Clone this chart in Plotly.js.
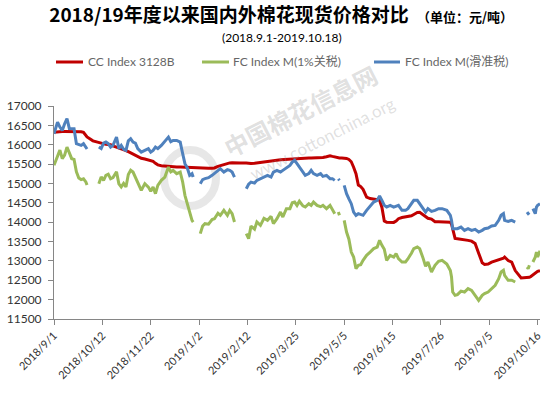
<!DOCTYPE html>
<html>
<head>
<meta charset="utf-8">
<script src="https://cdn.plot.ly/plotly-3.0.1.min.js"></script>
<style>
html,body{margin:0;padding:0;background:#fff;}
#chart{width:556px;height:394px;}
</style>
</head>
<body>
<div id="chart"></div>
<script>
// ---- data ----
var dates = [
'2018-09-01','2018-09-03','2018-09-04','2018-09-06','2018-09-08','2018-09-10','2018-09-12','2018-09-14','2018-09-16','2018-09-18',
'2018-09-20','2018-09-22','2018-09-24','2018-09-26','2018-09-28','2018-09-29','2018-10-04','2018-10-09','2018-10-11','2018-10-13',
'2018-10-15','2018-10-17','2018-10-19','2018-10-21','2018-10-24','2018-10-26','2018-10-28','2018-10-30','2018-11-01','2018-11-03',
'2018-11-05','2018-11-07','2018-11-09','2018-11-11','2018-11-14','2018-11-17','2018-11-20','2018-11-22','2018-11-24','2018-11-26',
'2018-11-28','2018-12-01','2018-12-04','2018-12-07','2018-12-09','2018-12-11','2018-12-14','2018-12-17','2018-12-19','2018-12-21',
'2018-12-23','2018-12-25','2018-12-27','2018-12-28','2018-12-31','2019-01-03','2019-01-05','2019-01-07','2019-01-10','2019-01-13',
'2019-01-15','2019-01-18','2019-01-20','2019-01-23','2019-01-26','2019-01-28','2019-01-30','2019-02-01','2019-02-06','2019-02-11',
'2019-02-13','2019-02-15','2019-02-18','2019-02-20','2019-02-23','2019-02-26','2019-03-01','2019-03-04','2019-03-06','2019-03-09',
'2019-03-12','2019-03-14','2019-03-17','2019-03-20','2019-03-22','2019-03-24','2019-03-26','2019-03-28','2019-03-31','2019-04-02',
'2019-04-05','2019-04-07','2019-04-09','2019-04-12','2019-04-15','2019-04-17','2019-04-20','2019-04-23','2019-04-25','2019-04-27',
'2019-04-28','2019-04-30','2019-05-01','2019-05-03','2019-05-05','2019-05-07','2019-05-09','2019-05-11','2019-05-13','2019-05-15',
'2019-05-17','2019-05-19','2019-05-21','2019-05-24','2019-05-27','2019-05-30','2019-06-02','2019-06-04','2019-06-06','2019-06-08',
'2019-06-10','2019-06-13','2019-06-16','2019-06-18','2019-06-20','2019-06-23','2019-06-26','2019-06-28','2019-07-01','2019-07-03',
'2019-07-06','2019-07-08','2019-07-11','2019-07-13','2019-07-15','2019-07-18','2019-07-21','2019-07-24','2019-07-27','2019-07-31',
'2019-08-03','2019-08-04','2019-08-05','2019-08-07','2019-08-09','2019-08-12','2019-08-15','2019-08-18','2019-08-21','2019-08-24',
'2019-08-27','2019-08-30','2019-09-01','2019-09-04','2019-09-07','2019-09-10','2019-09-13','2019-09-15','2019-09-17','2019-09-18',
'2019-09-21','2019-09-24','2019-09-27','2019-10-02','2019-10-07','2019-10-08','2019-10-09','2019-10-10','2019-10-12','2019-10-14',
'2019-10-15','2019-10-16','2019-10-18'
];

var ccIndex = [
16320,16330,16335,16340,16340,16340,16340,16340,16340,16340,
16340,16340,16335,16320,16240,16200,16100,16060,16030,16020,
16010,16005,16000,15970,15940,15920,15905,15880,15850,15820,
15790,15750,15710,15680,15650,15630,15610,15590,15570,15520,
15480,15460,15450,15440,15430,15425,15423,15423,15420,15420,
15415,15410,15400,15400,15395,15385,15385,15385,15390,15390,
15400,15440,15460,15484,15510,15530,15535,15530,15530,15530,
15520,15515,15520,15530,15545,15555,15565,15580,15590,15600,
15610,15615,15620,15625,15630,15640,15645,15650,15650,15655,
15655,15655,15655,15660,15665,15670,15690,15715,15700,15680,
15675,15665,15660,15655,15650,15645,15620,15560,15420,15250,
14960,14920,14850,14650,14610,14600,14590,14570,14380,14030,
14000,13990,13995,14030,14090,14120,14130,14140,14165,14200,
14250,14255,14180,14130,14100,14080,14010,14010,14010,14010,
14000,13950,13800,13580,13570,13560,13540,13530,13510,13450,
13200,12950,12910,12920,12970,13000,13020,13040,13070,13100,
13010,12970,12750,12560,12560,12570,12575,12590,12640,12700,
12720,12730,12750
];

var fcIndex1 = [
15470,15650,15700,15860,15640,15730,15940,15770,15640,15620,
15300,15140,15100,15120,15040,14960,null,14990,15170,15080,
15210,15240,15120,15150,15300,14990,14910,15000,14910,15230,
15340,15294,15165,15036,14822,14995,14907,14800,14907,14736,
14951,15080,15165,15423,15300,15338,15253,15294,15050,14693,
14478,14220,14047,14004,null,13704,13900,13962,13950,14070,
14090,14230,14177,14305,14177,14305,14220,14004,null,13704,
13575,13900,13820,14004,13918,14100,14047,14150,13962,14090,
14262,14133,14349,14349,14500,14520,14434,14540,14420,14391,
14478,14434,14520,14434,14400,14434,14349,14434,14330,14220,
null,14262,14177,null,14047,13746,13560,13229,13100,12800,
12886,12900,13015,13144,13229,13317,13358,13531,13402,13300,
13015,13144,13100,13188,13059,12972,12972,13050,13200,13317,
13358,13317,13059,12860,12972,12713,12886,12990,13015,12920,
12750,12584,12197,12111,12129,12220,12197,12284,12240,12111,
11982,12111,12155,12197,12284,12370,12542,12713,12757,12628,
12499,12500,12455,null,12842,12800,12886,null,12972,13100,
13229,13100,13260
];

var fcIndexSliding = [
16285,16500,16584,16455,16370,16543,16672,16420,16414,16414,
16027,16001,15983,16027,15910,15890,null,15939,15900,16040,
16068,16027,15939,15983,16197,15898,15983,15880,15854,16100,
16156,16068,16040,15900,15810,15854,15898,15810,15854,15939,
15898,15983,16090,16197,16080,16112,16112,16068,15780,15510,
15400,15209,15253,15165,null,14995,15100,15124,15149,15209,
15253,15338,15382,15294,15356,15338,15294,15165,null,14865,
14980,15036,15010,15080,15124,15149,15209,15165,15294,15338,
15294,15338,15408,15467,15552,15596,15510,15423,15294,15209,
15253,15338,15253,15209,15253,15183,15209,15124,15124,15080,
null,15120,15080,null,14951,14736,14600,14478,14262,14177,
14220,14190,14177,14305,14420,14520,14564,14675,14564,14434,
14390,14434,14391,14420,14434,14305,14305,14349,14478,14564,
14564,14478,14349,14262,14349,14280,14305,14349,14349,14305,
14177,14047,13832,13832,13832,13874,13789,13832,13789,13815,
13746,13789,13832,13849,13900,13918,14047,14177,14220,14047,
14022,14047,14004,null,14262,14220,14245,null,14349,14220,
14391,14434,14478
];

var seriesNames = ['CC Index 3128B', 'FC Index M(1%关税)', 'FC Index M(滑准税)'];
var tickDates = ['2018-09-01','2018-10-12','2018-11-22','2019-01-02','2019-02-12','2019-03-25','2019-05-05','2019-06-15','2019-07-26','2019-09-05','2019-10-16'];
var tickLabels = ['2018/9/1','2018/10/12','2018/11/22','2019/1/2','2019/2/12','2019/3/25','2019/5/5','2019/6/15','2019/7/26','2019/9/5','2019/10/16'];
var titleText = '2018/19年度以来国内外棉花现货价格对比';
var unitText = '（单位：元/吨）';
var subtitleText = '(2018.9.1-2019.10.18)';

// ---- layout helpers (pixel -> paper) ----
var W = 556, H = 394;
var M = {l: 54, r: 16, t: 106, b: 75};
var PW = W - M.l - M.r, PH = H - M.t - M.b;
function px(x) { return (x - M.l) / PW; }
function py(y) { return (H - M.b - y) / PH; }

var colors = ['#C00000', '#9BBB59', '#4F81BD'];
var values = [ccIndex, fcIndex1, fcIndexSliding];

var traces = values.map(function (v, i) {
  return {
    x: dates, y: v, name: seriesNames[i], type: 'scatter', mode: 'lines',
    connectgaps: false,
    line: {color: colors[i], width: 3},
    hoverinfo: 'x+y+name'
  };
});

var baseFont = 'Lato, "Noto Sans CJK SC", sans-serif';
var cjkFont = '"Noto Sans CJK SC", Lato, sans-serif';

var legendX = [[56, 83, 86], [202, 229, 231], [374, 400, 403]];
var shapes = [
  // faint watermark logo
  {type: 'circle', xref: 'paper', yref: 'paper', x0: px(164), x1: px(216), y0: py(206), y1: py(150),
   line: {color: 'rgba(170,170,170,0.28)', width: 8}, layer: 'below'}
];
var annotations = [
  {text: '<b>' + unitText + '</b>', xref: 'paper', yref: 'paper', x: px(415), y: py(17), xanchor: 'left', yanchor: 'middle',
   showarrow: false, font: {family: cjkFont, size: 13, color: '#000'}},
  {text: subtitleText, xref: 'paper', yref: 'paper', x: px(282), y: py(37), xanchor: 'center', yanchor: 'middle',
   showarrow: false, font: {family: baseFont, size: 12, color: '#000'}},
  // watermark
  {text: '<b>中国棉花信息网</b>', xref: 'paper', yref: 'paper', x: px(300), y: py(110), xanchor: 'center', yanchor: 'middle',
   textangle: -27, showarrow: false, font: {family: cjkFont, size: 24, color: 'rgba(150,150,150,0.3)'}},
  {text: 'www.cottonchina.org', xref: 'paper', yref: 'paper', x: px(322), y: py(138), xanchor: 'center', yanchor: 'middle',
   textangle: -27, showarrow: false, font: {family: baseFont, size: 17, color: 'rgba(150,150,150,0.3)'}}
];
legendX.forEach(function (p, i) {
  shapes.push({type: 'line', xref: 'paper', yref: 'paper', x0: px(p[0]), x1: px(p[1]), y0: py(62), y1: py(62),
    line: {color: colors[i], width: 3}});
  annotations.push({text: seriesNames[i], xref: 'paper', yref: 'paper', x: px(p[2]), y: py(62), xanchor: 'left', yanchor: 'middle',
    showarrow: false, font: {family: baseFont, size: 12, color: '#666666'}});
});

var layout = {
  width: W, height: H,
  margin: M,
  paper_bgcolor: '#fff', plot_bgcolor: '#fff',
  showlegend: false,
  title: {text: '<b>' + titleText + '</b>', x: 229 / W, xanchor: 'center', xref: 'container', y: 1 - 15 / H, yanchor: 'middle',
          yref: 'container', font: {family: cjkFont, size: 19, color: '#000'}},
  xaxis: {
    type: 'date', range: ['2018-09-01', '2019-10-18'],
    tickmode: 'array', tickvals: tickDates, ticktext: tickLabels, tickangle: -45,
    ticks: 'outside', ticklen: 5, tickcolor: '#868686',
    showline: true, linecolor: '#868686', linewidth: 1,
    showgrid: false, zeroline: false,
    tickfont: {family: baseFont, size: 11, color: '#333333'}
  },
  yaxis: {
    range: [11500, 17000], dtick: 500, tick0: 11500, tickformat: 'd',
    ticks: 'outside', ticklen: 5, tickcolor: '#868686',
    showline: true, linecolor: '#868686', linewidth: 1,
    showgrid: false, zeroline: false,
    ticklabelstandoff: 4,
    tickfont: {family: baseFont, size: 12, color: '#333333'}
  },
  shapes: shapes,
  annotations: annotations
};

Plotly.newPlot('chart', traces, layout, {displayModeBar: false, staticPlot: true});
</script>
</body>
</html>
